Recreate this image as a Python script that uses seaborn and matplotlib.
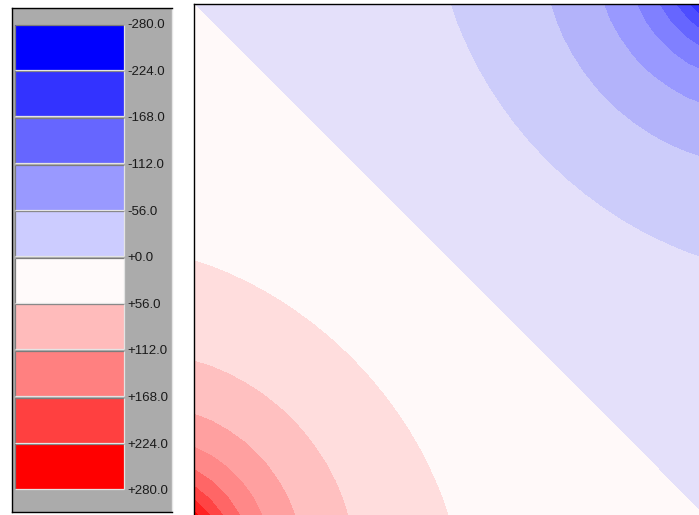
import numpy as np
import matplotlib
matplotlib.use("Agg")
import matplotlib.pyplot as plt
from matplotlib.colors import ListedColormap, BoundaryNorm
import seaborn as sns

# ---- legend scale: class boundaries, their labels and fill colours ----
legend_edges = [-280, -224, -168, -112, -56, 0, 56, 112, 168, 224, 280]
legend_labels = ["-280.0", "-224.0", "-168.0", "-112.0", "-56.0", "+0.0",
                 "+56.0", "+112.0", "+168.0", "+224.0", "+280.0"]
legend_colors = ["#0000FF", "#3333FF", "#6666FF", "#9999FF", "#CCCCFF",
                 "#FFFAFA", "#FFBBBB", "#FF8080", "#FF4040", "#FF0000"]

# ---- contour bands of the field ----
contour_levels = list(range(-280, 281, 28))
contour_colors = ["#0000FF", "#1A1AFF", "#3333FF", "#4D4DFF", "#6666FF",
                  "#8080FF", "#9999FF", "#B3B3FA", "#CCCCFA", "#E4E0FA",
                  "#FFF9F9", "#FFDDDD", "#FFC0C0", "#FFA0A0", "#FF8888",
                  "#FF6666", "#FF4444", "#FF2222", "#FF0000", "#FF0000"]

# ---- point sources generating the potential field (plot units) ----
source_x = [-0.88, 10.88]
source_y = [-0.88, 10.88]
source_q = [318.0, -318.0]

x_range = [0.0, 10.0]
y_range = [0.0, 10.0]
grid_nodes = 31   # field is sampled on a coarse regular grid

sns.set_theme(style="white")
plt.rcParams["font.family"] = ["Liberation Sans", "DejaVu Sans"]

W, H = 699, 515
fig = plt.figure(figsize=(W / 100, H / 100), dpi=100, facecolor="white")

# ---------------- legend panel ----------------
lax = fig.add_axes([12 / W, 1 - 512 / H, 160 / W, 504 / H])
lax.set_facecolor("#ABABAB")
lax.set_xlim(0, 160)
lax.set_ylim(306.4, -299.2)
lax.set_xticks([])
lax.set_yticks([])
for side in ("left", "top", "bottom"):
    lax.spines[side].set_color("black")
    lax.spines[side].set_linewidth(1.0)
lax.spines["right"].set_color("#E6E6E6")
lax.spines["right"].set_linewidth(1.0)

lo = np.array(legend_edges[:-1], dtype=float)
hi = np.array(legend_edges[1:], dtype=float)
gap = 1.9
box_left, box_width = 2.6, 109.6
lax.barh((lo + hi) / 2, width=box_width, left=box_left, height=(hi - lo) - gap,
         color=sns.color_palette(legend_colors), edgecolor="none", zorder=2)
# bevelled box edges
tops = lo + gap / 2
bots = hi - gap / 2
lax.hlines(tops, box_left, box_left + box_width, colors="#7C7C7C", lw=0.9, zorder=3)
lax.vlines(np.full_like(lo, box_left), tops, bots, colors="#7C7C7C", lw=0.9, zorder=3)
lax.hlines(bots, box_left, box_left + box_width, colors="#E4E4E4", lw=0.9, zorder=3)
lax.vlines(np.full_like(lo, box_left + box_width), tops, bots, colors="#E4E4E4", lw=0.9, zorder=3)

for val, lab in zip(legend_edges, legend_labels):
    lax.text(115.3, val + 1.5, lab, ha="left", va="center", fontsize=9.5,
             color="#1A1A1A", zorder=4)

# ---------------- contour plot ----------------
ax = fig.add_axes([194 / W, 0, 510 / W, 511 / H])
gx = np.linspace(x_range[0], x_range[1], grid_nodes)
gy = np.linspace(y_range[0], y_range[1], grid_nodes)
X, Y = np.meshgrid(gx, gy)
V = np.zeros_like(X)
for sx, sy, q in zip(source_x, source_y, source_q):
    V += q / np.hypot(X - sx, Y - sy)

cmap = ListedColormap(sns.color_palette(contour_colors))
norm = BoundaryNorm(contour_levels, cmap.N)
ax.contourf(X, Y, V, levels=contour_levels, cmap=cmap, norm=norm,
            antialiased=False)
ax.set_xlim(*x_range)
ax.set_ylim(*y_range)
ax.set_xticks([])
ax.set_yticks([])
for side in ("right", "bottom"):
    ax.spines[side].set_visible(False)
for side in ("left", "top"):
    ax.spines[side].set_color("black")
    ax.spines[side].set_linewidth(1.0)

fig.savefig("out.png", dpi=100, facecolor="white")
